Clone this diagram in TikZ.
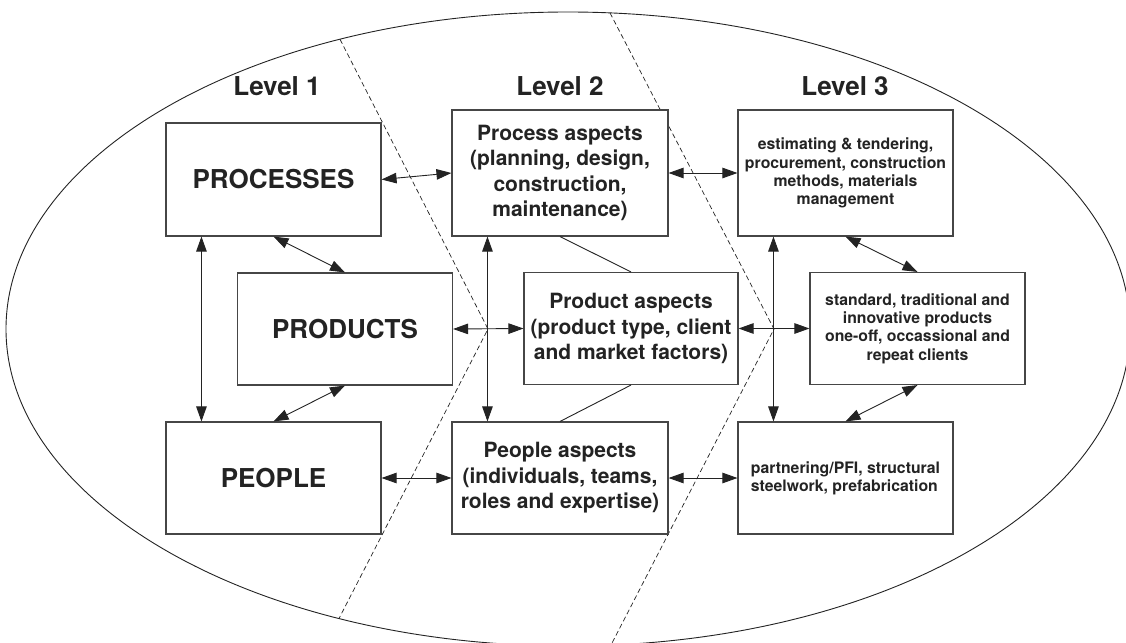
\documentclass[tikz,border=0pt]{standalone}
\usepackage{fontspec}
\setmainfont{TeX Gyre Heros}
\usetikzlibrary{arrows.meta}
\definecolor{ink}{RGB}{35,35,35}
\definecolor{edge}{RGB}{70,70,70}

\begin{document}
\begin{tikzpicture}[x=1pt,y=-1pt,
  box/.style={draw=edge,line width=1.1pt,fill=white,minimum width=215pt,
    inner sep=2pt,align=center,text=ink},
  big/.style={font=\fontsize{26}{30}\selectfont\bfseries},
  mid/.style={font=\fontsize{21}{25.5}\selectfont\bfseries},
  small/.style={font=\fontsize{15.8}{18.3}\selectfont\bfseries},
  link/.style={draw=ink,line width=0.9pt,
    {Triangle[length=15pt,width=10.5pt]}-{Triangle[length=15pt,width=10.5pt]}},
  tie/.style={draw=ink,line width=0.9pt},
  divider/.style={draw=ink,line width=0.7pt,dash pattern=on 5pt off 3pt},
  level/.style={font=\fontsize{26}{30}\selectfont\bfseries,text=ink,inner sep=0pt}
]
\useasboundingbox (0,0) rectangle (1126,642);
\clip (0,0) rectangle (1126,642);

% outer boundary
\draw[ink,line width=0.9pt] (568,329) ellipse [x radius=562pt, y radius=317pt];

% dashed separators between the three levels
\coordinate (d1a) at (340,39.3);
\coordinate (k1) at (488,329);
\coordinate (d1b) at (339,618.5);
\coordinate (d2a) at (610,12.9);
\coordinate (k2) at (774,329);
\coordinate (d2b) at (611,645);
\draw[divider] (d1a) -- (k1) -- (d1b);
\draw[divider] (d2a) -- (k2) -- (d2b);

% level headings
\node[level] (lv1) at (277,86) {Level 1};
\node[level] (lv2) at (560,86) {Level 2};
\node[level] (lv3) at (845,86) {Level 3};

% level 1
\node[box,big,minimum height=113pt] (proc) at (273.5,179.5) {PROCESSES};
\node[box,big,minimum height=112pt] (prod) at (345,329) {PRODUCTS};
\node[box,big,minimum height=112pt] (peop) at (273.5,478) {PEOPLE};

% level 2
\node[box,mid,minimum width=216pt,minimum height=126pt] (pa) at (560,173)
  {Process aspects\\(planning, design,\\construction,\\maintenance)};
\node[box,mid,minimum width=214pt,minimum height=112pt] (pra) at (631,328.5)
  {Product aspects\\(product type, client\\and market factors)};
\node[box,mid,minimum width=216pt,minimum height=112pt] (pea) at (560,478)
  {People aspects\\(individuals, teams,\\roles and expertise)};

% level 3
\node[box,small,minimum height=126pt] (l3a) at (845.5,173)
  {estimating \& tendering,\\procurement, construction\\methods, materials\\management};
\node[box,small,minimum height=112pt] (l3b) at (917.5,328.5)
  {standard, traditional and\\innovative products\\one-off, occassional and\\repeat clients};
\node[box,small,minimum height=112pt,align=left] (l3c) at (845.5,478)
  {partnering/PFI, structural\\steelwork, prefabrication};

% links across levels
\draw[link] (proc.east) -- (pa.west);
\draw[link] (pa.east) -- (l3a.west);
\draw[link] (prod.east) -- (pra.west);
\draw[link] (pra.east) -- (l3b.west);
\draw[link] (peop.east) -- (pea.west);
\draw[link] (pea.east) -- (l3c.west);

% links within each level
\draw[link] ([xshift=36pt]proc.south west) -- ([xshift=36pt]peop.north west);
\draw[link] ([xshift=36pt]pa.south west) -- ([xshift=36pt]pea.north west);
\draw[link] ([xshift=36pt]l3a.south west) -- ([xshift=36pt]l3c.north west);
\draw[link] (proc.south) -- (prod.north);
\draw[link] (prod.south) -- (peop.north);
\draw[link] (l3a.south) -- (l3b.north);
\draw[link] (l3b.south) -- (l3c.north);
\draw[tie] (pa.south) -- (pra.north);
\draw[tie] (pra.south) -- (pea.north);
\end{tikzpicture}
\end{document}
